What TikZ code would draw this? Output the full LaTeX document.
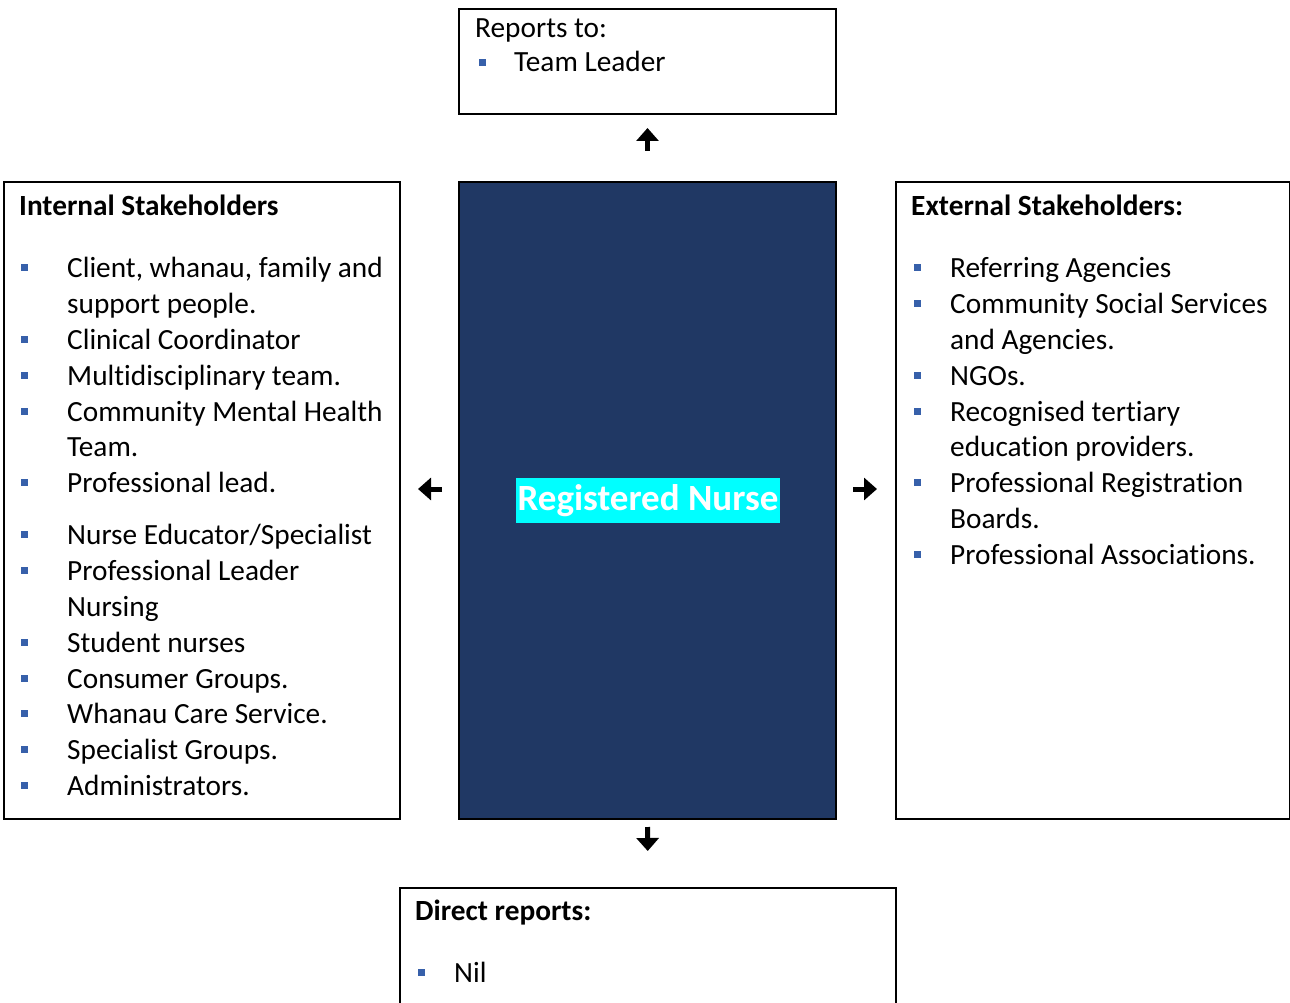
\documentclass[tikz,border=0pt]{standalone}
\usepackage{fontspec}
\setmainfont[Ligatures={NoCommon}]{Carlito}
\usetikzlibrary{arrows.meta}
\definecolor{navy}{RGB}{32,56,100}
\definecolor{bulletblue}{RGB}{55,96,170}
\definecolor{hlcyan}{RGB}{0,255,255}
\tikzset{
  frame/.style={draw=black, line width=2pt},
  itemtxt/.style={anchor=base west, inner sep=0pt, font=\fontsize{29.3}{35}\selectfont},
  headtxt/.style={anchor=base west, inner sep=0pt, font=\fontsize{29.3}{35}\selectfont\bfseries},
  bul/.style={fill=bulletblue, minimum size=7pt, inner sep=0pt},
  bigarrow/.style={line width=5pt, -{Triangle[length=13pt,width=22pt]}},
}
\begin{document}
\begin{tikzpicture}[x=1pt,y=-1pt]
\useasboundingbox (0,0) rectangle (1290,1003);
% boxes
\node[frame, minimum width=377pt, minimum height=105pt, inner sep=0pt] (reports) at (647.5,61.5) {};
\node[frame, minimum width=396pt, minimum height=637pt, inner sep=0pt] (internal) at (202,500.5) {};
\node[frame, fill=navy, minimum width=377pt, minimum height=637pt, inner sep=0pt] (nurse) at (647.5,500.5) {};
\node[frame, minimum width=394pt, minimum height=637pt, inner sep=0pt] (external) at (1093,500.5) {};
\draw[frame] (400,1010) -- (400,888) -- (896,888) -- (896,1010);
\coordinate (direct) at (648,888);
\coordinate (mid) at (648,489);
% nurse label
\node[fill=hlcyan, text=white, minimum height=45pt, inner xsep=1.5pt, inner ysep=0pt,
      font=\fontsize{37}{42}\selectfont\bfseries] (rn) at (648,500.5) {Registered Nurse};
% reports
\node[itemtxt] (rt) at (475,38) {Reports to:};
\node[bul] (rb) at (482.5,63) {};
\node[itemtxt] (rtl) at (514,72) {Team Leader};
% internal
\node[headtxt] (ih) at (19,215) {Internal Stakeholders};
\foreach \b/\t/\k in {277/{Client, whanau, family and}/1, 349/{Clinical Coordinator}/3,
  385/{Multidisciplinary team.}/4, 421/{Community Mental Health}/5, 492/{Professional lead.}/7,
  544/{Nurse Educator/Specialist}/8, 580/{Professional Leader}/9, 652/{Student nurses}/11,
  688/{Consumer Groups.}/12, 723/{Whanau Care Service.}/13, 759/{Specialist Groups.}/14,
  795/{Administrators.}/15}{
  \node[bul] (ib\k) at (24.5,\b-10) {};
  \node[itemtxt] (it\k) at (67,\b) {\t};
}
\foreach \b/\t/\k in {313/{support people.}/2, 456/{Team.}/6, 616/{Nursing}/10}{
  \node[itemtxt] (it\k) at (67,\b) {\t};
}
% external
\node[headtxt] (eh) at (911,215) {External Stakeholders:};
\foreach \b/\t/\k in {277/{Referring Agencies}/1, 313/{Community Social Services}/2,
  385/{NGOs.}/4, 421/{Recognised tertiary}/5, 492/{Professional Registration}/7,
  564/{Professional Associations.}/9}{
  \node[bul] (eb\k) at (917.5,\b-10) {};
  \node[itemtxt] (et\k) at (950,\b) {\t};
}
\foreach \b/\t/\k in {349/{and Agencies.}/3, 456/{education providers.}/6, 528/{Boards.}/8}{
  \node[itemtxt] (et\k) at (950,\b) {\t};
}
% direct reports
\node[headtxt] (dh) at (415,920) {Direct reports:};
\node[bul] (db) at (421.5,972) {};
\node[itemtxt] (dn) at (454,982) {Nil};
% arrows
\draw[bigarrow, shorten <=30pt, shorten >=13pt] (nurse.north) -- (reports.south);
\draw[bigarrow, shorten <=16pt, shorten >=17pt] (nurse.west |- mid) -- (internal.east |- mid);
\draw[bigarrow, shorten <=16pt, shorten >=18pt] (nurse.east |- mid) -- (external.west |- mid);
\draw[bigarrow, shorten <=7pt, shorten >=37pt] (nurse.south) -- (direct);
\end{tikzpicture}
\end{document}
